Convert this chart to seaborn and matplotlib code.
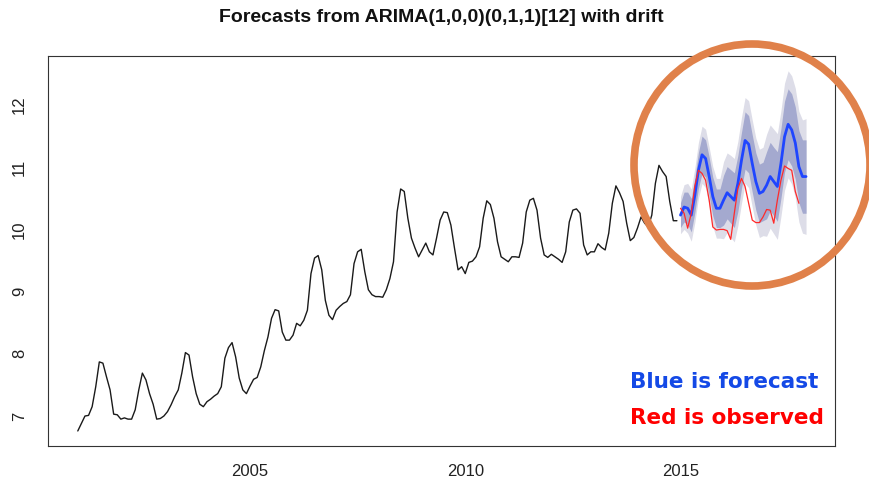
import numpy as np
import pandas as pd
import matplotlib
matplotlib.use("Agg")
import matplotlib.pyplot as plt
import seaborn as sns
from matplotlib.patches import Ellipse

# Monthly history, Jan 2001 - Dec 2014
hist_2001 = [6.76, 6.88, 7.00, 7.01, 7.15, 7.47, 7.87, 7.85, 7.63, 7.42, 7.03, 7.02]
hist_2002 = [6.95, 6.97, 6.95, 6.95, 7.10, 7.42, 7.69, 7.58, 7.36, 7.19, 6.95, 6.96]
hist_2003 = [7.00, 7.07, 7.18, 7.31, 7.42, 7.69, 8.02, 7.98, 7.63, 7.36, 7.19, 7.15]
hist_2004 = [7.23, 7.27, 7.32, 7.36, 7.47, 7.93, 8.10, 8.18, 7.95, 7.61, 7.42, 7.36]
hist_2005 = [7.48, 7.59, 7.62, 7.79, 8.05, 8.27, 8.57, 8.71, 8.69, 8.35, 8.22, 8.22]
hist_2006 = [8.30, 8.49, 8.45, 8.54, 8.70, 9.29, 9.54, 9.58, 9.35, 8.86, 8.62, 8.55]
hist_2007 = [8.70, 8.76, 8.81, 8.84, 8.95, 9.45, 9.64, 9.68, 9.32, 9.03, 8.95, 8.92]
hist_2008 = [8.92, 8.91, 9.03, 9.21, 9.48, 10.28, 10.65, 10.61, 10.18, 9.86, 9.70, 9.56]
hist_2009 = [9.67, 9.78, 9.64, 9.59, 9.86, 10.15, 10.28, 10.27, 10.07, 9.70, 9.35, 9.40]
hist_2010 = [9.29, 9.47, 9.49, 9.56, 9.72, 10.18, 10.46, 10.40, 10.18, 9.80, 9.56, 9.52]
hist_2011 = [9.48, 9.56, 9.56, 9.55, 9.78, 10.28, 10.47, 10.50, 10.31, 9.86, 9.59, 9.55]
hist_2012 = [9.60, 9.56, 9.52, 9.47, 9.64, 10.12, 10.31, 10.33, 10.26, 9.75, 9.59, 9.64]
hist_2013 = [9.64, 9.77, 9.71, 9.67, 9.94, 10.42, 10.70, 10.59, 10.45, 10.10, 9.82, 9.87]
hist_2014 = [10.02, 10.20, 10.10, 10.04, 10.23, 10.74, 11.03, 10.93, 10.85, 10.45, 10.14, 10.14]

history = (hist_2001 + hist_2002 + hist_2003 + hist_2004 + hist_2005 + hist_2006 + hist_2007
           + hist_2008 + hist_2009 + hist_2010 + hist_2011 + hist_2012 + hist_2013 + hist_2014)

# Point forecast Jan 2015 - Dec 2017
forecast = [10.23, 10.36, 10.34, 10.23, 10.55, 10.95, 11.20, 11.14, 10.85, 10.53, 10.34, 10.34,
            10.47, 10.59, 10.53, 10.47, 10.74, 11.11, 11.43, 11.37, 11.06, 10.77, 10.58, 10.61,
            10.71, 10.85, 10.77, 10.69, 11.06, 11.49, 11.69, 11.60, 11.39, 11.01, 10.85, 10.85]

# Observed values Jan 2015 - Oct 2017
observed = [10.34, 10.26, 10.02, 10.26, 10.70, 10.95, 10.90, 10.79, 10.47, 10.04, 9.99, 10.00,
            10.00, 9.98, 9.84, 10.26, 10.66, 10.82, 10.69, 10.42, 10.15, 10.11, 10.11, 10.20,
            10.32, 10.31, 10.10, 10.47, 10.79, 11.02, 10.98, 10.95, 10.61, 10.42]

# Half widths of the 80% and 95% prediction intervals
hw80 = [0.20, 0.24, 0.26, 0.27, 0.28, 0.29, 0.30, 0.30, 0.31, 0.31, 0.31, 0.31,
        0.40, 0.42, 0.43, 0.44, 0.45, 0.45, 0.46, 0.46, 0.46, 0.46, 0.47, 0.47,
        0.54, 0.55, 0.55, 0.56, 0.56, 0.57, 0.57, 0.58, 0.58, 0.58, 0.59, 0.59]
hw95 = [0.30, 0.36, 0.40, 0.42, 0.44, 0.45, 0.46, 0.47, 0.47, 0.48, 0.48, 0.48,
        0.62, 0.64, 0.66, 0.67, 0.68, 0.69, 0.69, 0.70, 0.70, 0.70, 0.71, 0.71,
        0.82, 0.83, 0.84, 0.85, 0.85, 0.86, 0.86, 0.87, 0.88, 0.89, 0.91, 0.93]

x_ticks = [2005, 2010, 2015]
y_ticks = [7, 8, 9, 10, 11, 12]

t_hist = 2001 + np.arange(len(history)) / 12
t_fc = 2015 + np.arange(len(forecast)) / 12
t_obs = 2015 + np.arange(len(observed)) / 12

fc = np.array(forecast)
band = pd.DataFrame({"t": t_fc,
                     "lo95": fc - np.array(hw95), "hi95": fc + np.array(hw95),
                     "lo80": fc - np.array(hw80), "hi80": fc + np.array(hw80)})

sns.set_style("white")
plt.rcParams["font.family"] = ["Liberation Sans", "DejaVu Sans"]

fig = plt.figure(figsize=(8.7, 4.86), dpi=100)
ax = fig.add_axes([48 / 870, 1 - 446 / 486, 787 / 870, 390 / 486])

ax.fill_between(band["t"], band["lo95"], band["hi95"], color="#dddde8", lw=0)
ax.fill_between(band["t"], band["lo80"], band["hi80"], color="#a4a9cf", lw=0)
sns.lineplot(x=t_hist, y=history, ax=ax, color="#1a1a1a", lw=1.0)
sns.lineplot(x=t_fc, y=forecast, ax=ax, color="#1f45ff", lw=2.0)
sns.lineplot(x=t_obs, y=observed, ax=ax, color="#ff2a2a", lw=0.9)

ax.set_xlim(2000.308, 2018.589)
ax.set_ylim(6.518, 12.788)
ax.set_xticks(x_ticks)
ax.set_yticks(y_ticks)
ax.set_xticklabels([str(v) for v in x_ticks], fontsize=12, color="#222222")
ax.set_yticklabels([str(v) for v in y_ticks], fontsize=12, color="#222222",
                   rotation=90, va="center")
ax.tick_params(axis="both", direction="out", length=6, width=0.8, color="#333333")
ax.tick_params(axis="x", pad=7)
ax.tick_params(axis="y", pad=9)
for s in ax.spines.values():
    s.set_color("#333333")
    s.set_linewidth(0.8)

fig.text(441 / 870, 1 - 18 / 486, "Forecasts from ARIMA(1,0,0)(0,1,1)[12] with drift",
         ha="center", va="center", fontsize=14, fontweight="bold", color="#111111")

fig.text(630 / 870, 1 - 382 / 486, "Blue is forecast", ha="left", va="center",
         fontsize=15.5, fontweight="bold", color="#1449e6", family=["DejaVu Sans"])
fig.text(630 / 870, 1 - 418 / 486, "Red is observed", ha="left", va="center",
         fontsize=15.5, fontweight="bold", color="#ff0000", family=["DejaVu Sans"])

ring = Ellipse((752 / 870, 1 - 165 / 486), 236 / 870, 242 / 486, transform=fig.transFigure,
               fill=False, edgecolor="#e0814a", lw=5.5, clip_on=False)
fig.add_artist(ring)

fig.savefig("out.png", dpi=100)
